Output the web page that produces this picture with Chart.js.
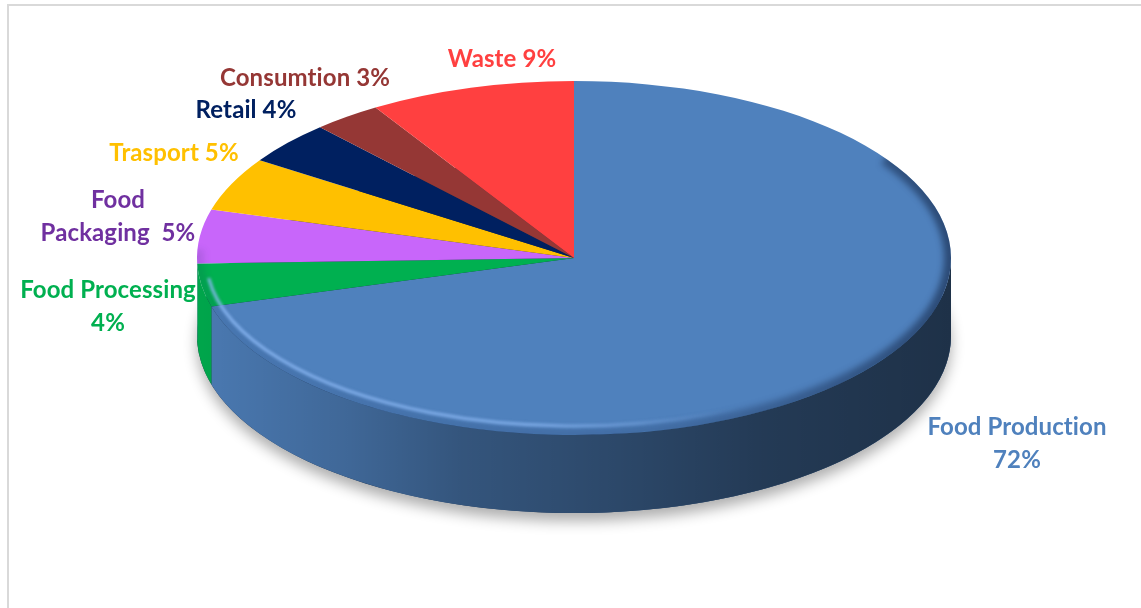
<!DOCTYPE html>
<html>
<head>
<meta charset="utf-8">
<script src="https://cdn.jsdelivr.net/npm/chart.js@4.4.1/dist/chart.umd.min.js"></script>
<style>
  html, body { margin: 0; padding: 0; background: #fff; }
  #wrap { width: 1141px; height: 608px; }
</style>
</head>
<body>
<div id="wrap"><canvas id="chart" width="1141" height="608"></canvas></div>
<script>
// Where the food system's emissions come from (share of total, %)
const categories = ['Food Production', 'Food Processing', 'Food Packaging', 'Trasport', 'Retail', 'Consumtion', 'Waste'];
const shares = [72, 4, 5, 5, 4, 3, 9];
const sliceColors = ['#4F81BD', '#00B050', '#C866FA', '#FFC000', '#002060', '#953735', '#FF4040'];
const labelColors = ['#4F81BD', '#00B050', '#7030A0', '#FFC000', '#002060', '#953735', '#FF4040'];

// label placement: centre x, first baseline, how the text wraps
const labelLayout = [
  { x: 1017, y: 435, wrap: 'value' },
  { x: 108, y: 298, wrap: 'value' },
  { x: 118, y: 208, wrap: 'word' },
  { x: 174, y: 161 },
  { x: 246, y: 118 },
  { x: 305, y: 86 },
  { x: 502, y: 67 }
];

// the tilted disc: centre, horizontal / vertical radius, wall height
const disc = { cx: 574, cy: 258, rx: 377, ry: 177, depth: 78 };
const W = 1141, H = 608;

const pie3d = {
  id: 'pie3d',
  beforeDraw(chart) {
    // light frame round the chart area
    const ctx = chart.ctx;
    ctx.save();
    ctx.fillStyle = '#d9d9d9';
    ctx.fillRect(7, 4, chart.width, 2);
    ctx.fillRect(7, 4, 2, chart.height);
    ctx.restore();
  },
  beforeDatasetsDraw(chart) {
    const ctx = chart.ctx;
    const arcs = chart.getDatasetMeta(0).data;
    const { x, y, outerRadius: r } = arcs[0];
    const d = disc.depth;

    // stretch the round pie sideways into the tilted ellipse
    ctx.save();
    ctx.translate(x, y);
    ctx.scale(disc.rx / r, 1);
    ctx.translate(-x, -y);

    // soft shadow under the base
    ctx.save();
    ctx.shadowColor = 'rgba(0,0,0,0.32)';
    ctx.shadowBlur = 14;
    ctx.shadowOffsetY = 8;
    ctx.fillStyle = '#1d2f47';
    ctx.beginPath();
    ctx.arc(x, y + d, r, 0, Math.PI * 2);
    ctx.fill();
    ctx.restore();

    // side wall gets darker from left to right
    const shade = ctx.createLinearGradient(x - r, 0, x + r, 0);
    shade.addColorStop(0, 'rgba(0,0,0,0.06)');
    shade.addColorStop(0.2, 'rgba(0,0,0,0.2)');
    shade.addColorStop(0.35, 'rgba(0,0,0,0.34)');
    shade.addColorStop(0.55, 'rgba(0,0,0,0.44)');
    shade.addColorStop(0.75, 'rgba(0,0,0,0.55)');
    shade.addColorStop(1, 'rgba(0,0,0,0.62)');

    arcs.forEach((arc, i) => {
      const a0 = Math.max(arc.startAngle, 0);
      const a1 = Math.min(arc.endAngle, Math.PI);
      if (a1 <= a0) return;
      ctx.beginPath();
      ctx.arc(x, y, r, a0, a1);
      ctx.arc(x, y + d, r, a1, a0, true);
      ctx.closePath();
      ctx.fillStyle = sliceColors[i];
      ctx.fill();
      ctx.fillStyle = shade;
      ctx.fill();
    });
  },
  afterDatasetsDraw(chart) {
    const ctx = chart.ctx;
    ctx.restore();

    const { x, y } = chart.getDatasetMeta(0).data[0];
    const rx = disc.rx, ry = disc.ry;

    // rounded bevel on the rim of the top face
    ctx.save();
    ctx.beginPath();
    ctx.ellipse(x, y, rx, ry, 0, 0, Math.PI * 2);
    ctx.clip();

    ctx.filter = 'blur(3px)';
    const rim = ctx.createLinearGradient(x - rx, 0, x + rx, 0);
    rim.addColorStop(0, 'rgba(20,40,80,0.12)');
    rim.addColorStop(0.6, 'rgba(20,40,80,0.22)');
    rim.addColorStop(1, 'rgba(15,30,60,0.55)');
    ctx.strokeStyle = rim;
    ctx.lineWidth = 14;
    ctx.beginPath();
    ctx.ellipse(x, y, rx, ry, 0, -0.6, Math.PI + 0.05);
    ctx.stroke();

    ctx.filter = 'blur(1.5px)';
    const glow = ctx.createLinearGradient(x - rx, 0, x + rx, 0);
    glow.addColorStop(0, 'rgba(140,185,245,0.9)');
    glow.addColorStop(0.45, 'rgba(140,185,245,0.8)');
    glow.addColorStop(0.72, 'rgba(140,185,245,0)');
    ctx.strokeStyle = glow;
    ctx.lineWidth = 3;
    ctx.beginPath();
    ctx.ellipse(x, y, rx - 9, ry - 9, 0, 0.4, Math.PI - 0.12);
    ctx.stroke();
    ctx.restore();
  },
  afterDraw(chart) {
    const ctx = chart.ctx;
    ctx.save();
    ctx.font = 'bold 24px Lato';
    ctx.textRendering = 'optimizeSpeed';   // no "ti" ligature
    ctx.letterSpacing = '0.1px';
    ctx.textAlign = 'center';
    ctx.textBaseline = 'alphabetic';
    labelLayout.forEach((pos, i) => {
      const pct = shares[i] + '%';
      let lines;
      if (pos.wrap === 'value') {
        lines = [categories[i], pct];
      } else if (pos.wrap === 'word') {
        const [first, ...rest] = categories[i].split(' ');
        lines = [first, rest.join(' ') + '  ' + pct];
      } else {
        lines = [categories[i] + ' ' + pct];
      }
      ctx.fillStyle = labelColors[i];
      lines.forEach((t, k) => ctx.fillText(t, pos.x, pos.y + k * 32.5));
    });
    ctx.restore();
  }
};

new Chart(document.getElementById('chart'), {
  type: 'pie',
  data: {
    labels: categories,
    datasets: [{
      data: shares,
      backgroundColor: sliceColors,
      borderWidth: 0,
      clip: false
    }]
  },
  options: {
    responsive: false,
    animation: false,
    events: [],
    layout: {
      padding: {
        left: disc.cx - disc.ry,
        right: W - disc.cx - disc.ry,
        top: disc.cy - disc.ry,
        bottom: H - disc.cy - disc.ry
      }
    },
    plugins: {
      legend: { display: false },
      tooltip: { enabled: false }
    }
  },
  plugins: [pie3d]
});
</script>
</body>
</html>
